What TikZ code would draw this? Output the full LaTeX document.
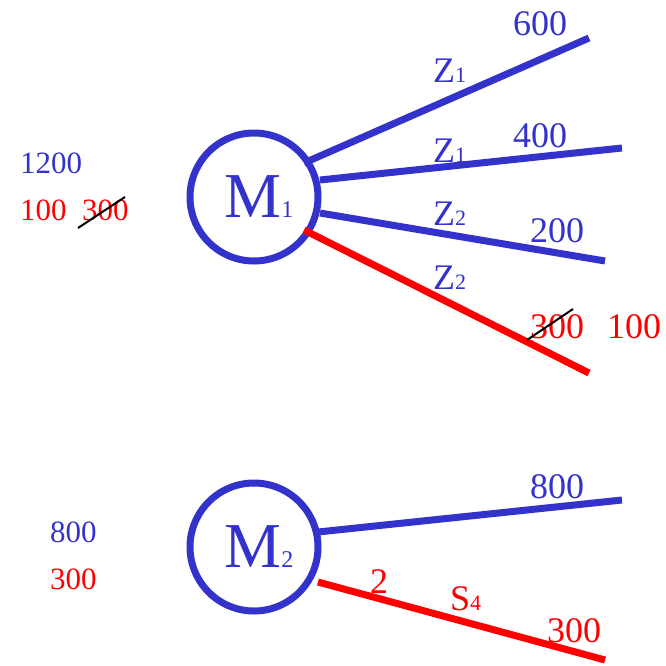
\documentclass[tikz,border=0pt]{standalone}
\usepackage{fontspec}
\setmainfont{Liberation Serif}
\definecolor{myblue}{RGB}{51,51,204}
\definecolor{myred}{RGB}{255,0,0}
\tikzset{
  machine/.style={circle,draw=myblue,line width=7pt,minimum size=128pt,inner sep=0pt,text=myblue},
  bluebranch/.style={draw=myblue,line width=7pt},
  redbranch/.style={draw=myred,line width=7pt},
  big/.style={inner sep=0pt,anchor=base west,font=\fontsize{36}{36}\selectfont},
  small/.style={inner sep=0pt,anchor=base west,font=\fontsize{31}{31}\selectfont},
  strike/.style={draw=black,line width=2pt},
}
\newcommand{\sbs}[1]{{\fontsize{22}{22}\selectfont #1}}
\newcommand{\msbs}[1]{{\fontsize{24}{24}\selectfont #1}}
\begin{document}
\begin{tikzpicture}[x=1pt,y=-1pt]
\useasboundingbox (0,0) rectangle (666,665);
% machines
\node[machine] (M1) at (254,197) {\hspace*{10pt}\fontsize{64}{64}\selectfont M\msbs{1}};
\node[machine] (M2) at (254,547) {\hspace*{10pt}\fontsize{64}{64}\selectfont M\msbs{2}};
% branch end points
\coordinate (s1) at (304,163);
\coordinate (s2) at (320,180);
\coordinate (s3) at (320,213);
\coordinate (s4) at (304,230);
\coordinate (e1) at (589,38);
\coordinate (e2) at (622,148);
\coordinate (e3) at (605,261);
\coordinate (e4) at (589,373);
\coordinate (t1) at (318,532);
\coordinate (t2) at (318,582);
\coordinate (f1) at (622,500);
\coordinate (f2) at (605,660);
\draw[bluebranch] (s1) -- (e1);
\draw[bluebranch] (s2) -- (e2);
\draw[bluebranch] (s3) -- (e3);
\draw[redbranch] (s4) -- (e4);
\draw[bluebranch] (t1) -- (f1);
\draw[redbranch] (t2) -- (f2);
% labels M1
\node[big,text=myblue] (l600) at (513,35) {600};
\node[big,text=myblue] (l400) at (513,147) {400};
\node[big,text=myblue] (l200) at (530,242) {200};
\node[big,text=myblue] (z1a) at (433,82) {Z\sbs{1}};
\node[big,text=myblue] (z1b) at (433,162) {Z\sbs{1}};
\node[big,text=myblue] (z2a) at (433,225) {Z\sbs{2}};
\node[big,text=myblue] (z2b) at (433,289) {Z\sbs{2}};
\node[big,text=myred] (r300) at (530,338) {300};
\node[big,text=myred] (r100) at (607,338) {100};
\coordinate (rs1) at (527,340);
\coordinate (rs2) at (573,309);
\draw[strike] (rs1) -- (rs2);
\node[small,text=myblue] (l1200) at (20,173) {1200};
\node[small,text=myred] (l100) at (20,220) {100};
\node[small,text=myred] (l300) at (82,220) {300};
\coordinate (ls1) at (78,228);
\coordinate (ls2) at (125,197);
\draw[strike] (ls1) -- (ls2);
% labels M2
\node[big,text=myblue] (r800) at (530,498) {800};
\node[big,text=myred] (two) at (370,593) {2};
\node[big,text=myred] (s4l) at (450,610) {S\sbs{4}};
\node[big,text=myred] (r300b) at (547,642) {300};
\node[small,text=myblue] (l800) at (50,542) {800};
\node[small,text=myred] (l300b) at (50,589) {300};
\end{tikzpicture}
\end{document}
